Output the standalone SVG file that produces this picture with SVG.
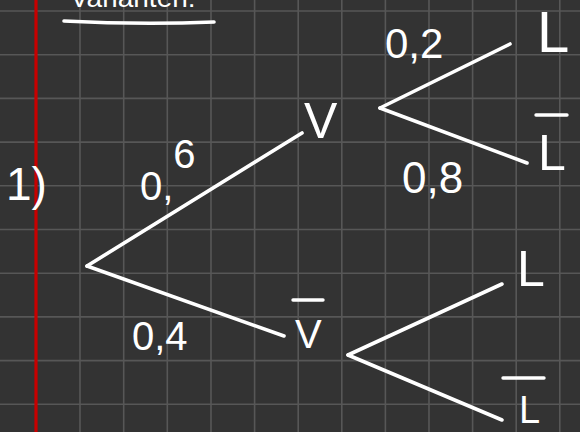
<svg xmlns="http://www.w3.org/2000/svg" width="580" height="432" viewBox="0 0 580 432">
<style>
.bg{fill:#333333}
.grid{stroke:#575757;stroke-width:1.6;fill:none}
.margin{stroke:#c80000;stroke-width:3.2}
.ink{stroke:#ffffff;stroke-width:3.6;stroke-linecap:round;stroke-linejoin:round;fill:none}
.bar{stroke:#ffffff;stroke-width:3.4;stroke-linecap:round}
.hw{fill:#ffffff;font-family:"Liberation Sans",Arial,sans-serif}
</style>
<rect class="bg" x="0" y="0" width="580" height="432"/>
<g id="grid">
<path class="grid" d="M80,0V432M123.7,0V432M167.3,0V432M211,0V432M254.6,0V432M298.2,0V432M341.8,0V432M385.4,0V432M429,0V432M472.6,0V432M516.2,0V432M559.8,0V432"/>
<path class="grid" d="M0,11H580M0,54.7H580M0,98.4H580M0,142.1H580M0,185.8H580M0,229.5H580M0,273.2H580M0,316.9H580M0,360.6H580M0,404.3H580"/>
</g>
<line class="margin" x1="36" y1="0" x2="36" y2="432"/>
<g id="title">
<text class="hw" x="70" y="7" font-size="28">Varianten:</text>
<path class="ink" d="M64,21 Q140,25 214,22"/>
</g>
<g id="task-number"><text class="hw" x="6" y="200" font-size="46">1)</text></g>
<g id="connectors">
<line class="ink" x1="87" y1="266" x2="302" y2="133"/>
<line class="ink" x1="87" y1="266" x2="284" y2="336"/>
<line class="ink" x1="380" y1="108" x2="510" y2="44"/>
<line class="ink" x1="380" y1="108" x2="527" y2="163"/>
<line class="ink" x1="348" y1="355" x2="502" y2="284"/>
<line class="ink" x1="348" y1="355" x2="502" y2="420"/>
</g>
<g id="edge-labels">
<text class="hw" x="140" y="200" font-size="40">0,<tspan dy="-32">6</tspan></text>
<text class="hw" x="132" y="350" font-size="40">0,4</text>
<text class="hw" x="385" y="58" font-size="42">0,2</text>
<text class="hw" x="402" y="193" font-size="44">0,8</text>
</g>
<g id="node-V"><text class="hw" x="304" y="138" font-size="50">V</text></g>
<g id="node-Vbar"><line class="bar" x1="293" y1="300" x2="323" y2="300"/><text class="hw" x="295" y="348" font-size="40">V</text></g>
<g id="node-L1"><text class="hw" x="537" y="52" font-size="58">L</text></g>
<g id="node-Lbar1"><line class="bar" x1="536" y1="115" x2="567" y2="115"/><text class="hw" x="538" y="170" font-size="50">L</text></g>
<g id="node-L2"><text class="hw" x="517" y="286" font-size="50">L</text></g>
<g id="node-Lbar2"><line class="bar" x1="503" y1="378" x2="544" y2="378"/><text class="hw" x="519" y="423" font-size="38">L</text></g>
</svg>
